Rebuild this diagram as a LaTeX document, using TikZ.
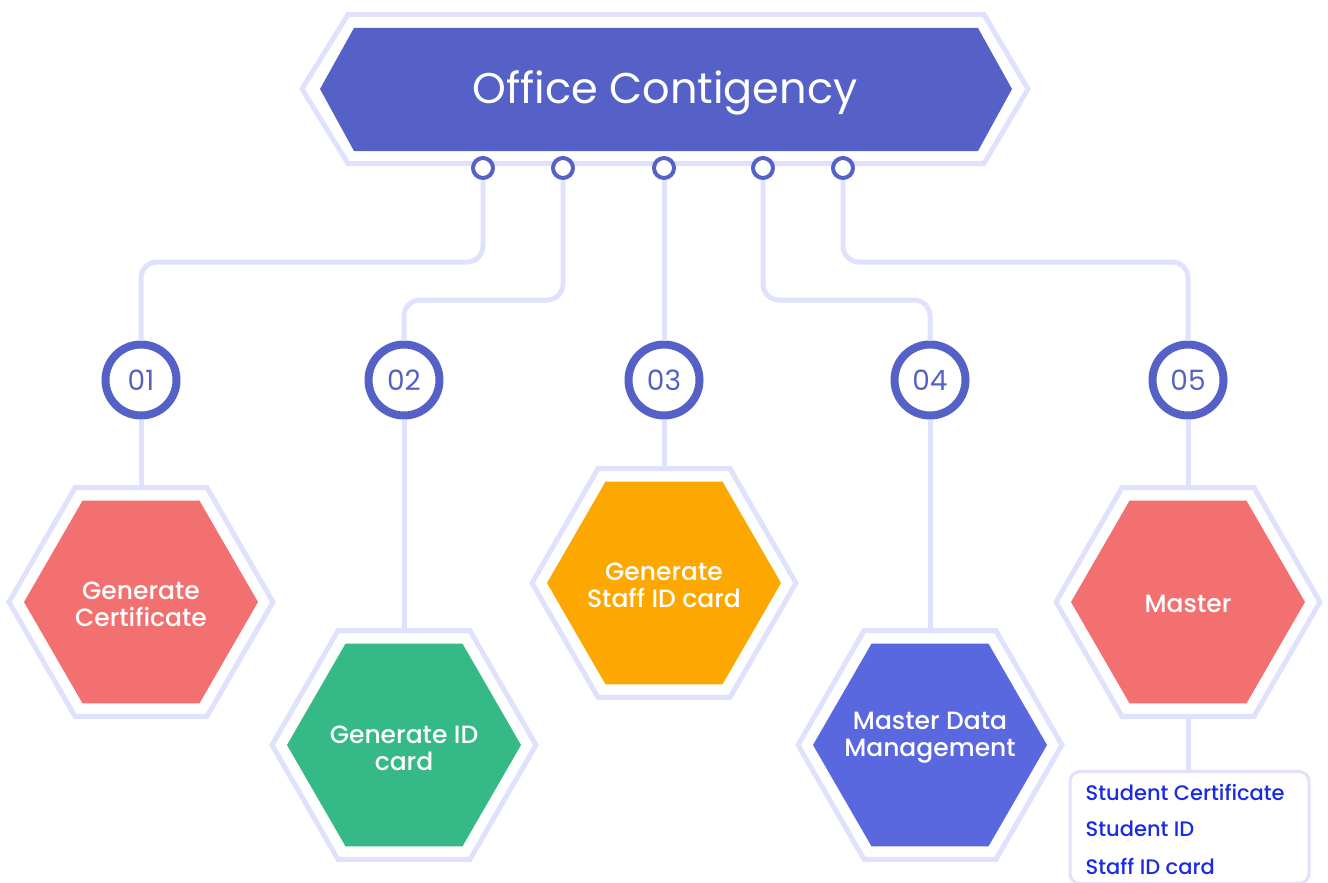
\documentclass[tikz,border=0pt]{standalone}
\usepackage{fontspec}
\setmainfont{Poppins}
\newfontfamily\popmedium{Poppins}[UprightFont=* Medium]
\usepackage{xcolor}
\usepackage{tikz}
\usetikzlibrary{shapes.geometric, positioning, calc}
\definecolor{bannerblue}{RGB}{85, 97, 198}
\definecolor{linelavender}{RGB}{224, 225, 253}
\definecolor{hexred}{RGB}{243, 112, 112}
\definecolor{hexgreen}{RGB}{53, 185, 135}
\definecolor{hexorange}{RGB}{252, 168, 0}
\definecolor{hexblue}{RGB}{90, 104, 223}
\definecolor{listblue}{RGB}{27, 43, 226}

\begin{document}
\begin{tikzpicture}[x=1pt, y=-1pt,
    conn/.style={line width=5pt, linelavender, rounded corners=16pt},
    frame/.style={regular polygon, regular polygon sides=6, minimum size=264pt, draw=linelavender, line width=5pt, fill=white, inner sep=0pt},
    hexbox/.style={regular polygon, regular polygon sides=6, minimum size=234pt, inner sep=0pt},
    hexlabel/.style={text=white, align=center, inner sep=0pt, font=\popmedium\fontsize{25}{27}\selectfont},
    pin/.style={circle, draw=bannerblue, line width=4pt, fill=white, minimum size=20pt, inner sep=0pt},
    num/.style={circle, draw=bannerblue, line width=8pt, fill=white, minimum size=71pt, inner sep=0pt, text=bannerblue, font=\fontsize{28}{30}\selectfont},
    listbox/.style={draw=linelavender, line width=3pt, fill=white, rounded corners=10pt, minimum width=239pt, minimum height=112pt, anchor=north west},
    listitem/.style={anchor=west, inner sep=0pt, text=listblue, font=\popmedium\fontsize{21}{22}\selectfont}]
    \useasboundingbox (0,0) rectangle (1328,883);

    % Banner
    \filldraw[linelavender, line width=5pt, fill=white] (302,89) -- (348,14.5) -- (984,14.5) -- (1028,89) -- (984,163.5) -- (348,163.5) -- cycle;
    \fill[bannerblue] (320,89) -- (354,28) -- (978,28) -- (1012,89) -- (978,151) -- (354,151) -- cycle;
    \node[text=white, font=\fontsize{43}{48}\selectfont] (title) at (665,93) {Office Contigency};

    % Pins and numbers
    \foreach \x [count=\i] in {483,563,664,763,843}
        \node[pin] (p\i) at (\x,168) {};
    \foreach \x/\t [count=\i] in {141/01, 404/02, 664/03, 930/04, 1188/05}
        \node[num] (n\i) at (\x,380) {\t};

    % Hexagons
    \foreach \x/\y/\dy/\c/\t [count=\i] in {141/602/2/hexred/{Generate\\Certificate}, 404/745/3/hexgreen/{Generate ID\\card}, 664/583/2/hexorange/{Generate\\Staff ID card}, 930/745/-7/hexblue/{Master Data\\Management}, 1188/602/2/hexred/{Master}} {
        \node[frame] (frame\i) at (\x,\y) {};
        \node[hexbox, fill=\c] (hex\i) at (frame\i) {};
        \node[hexlabel] (label\i) at ($(hex\i)+(0,\dy)$) {\t};
    }

    % Connectors
    \coordinate (row1) at (0,262);
    \coordinate (row2) at (0,300);
    \draw[conn] (p1.south) -- (p1.south |- row1) -| (n1.north);
    \draw[conn] (p2.south) -- (p2.south |- row2) -| (n2.north);
    \draw[conn] (p3.south) -- (n3.north);
    \draw[conn] (p4.south) -- (p4.south |- row2) -| (n4.north);
    \draw[conn] (p5.south) -- (p5.south |- row1) -| (n5.north);
    \foreach \i in {1,...,5}
        \draw[conn] (n\i.south) -- (frame\i.north);

    % Master list
    \node[listbox] (list) at (1068.5,770) {};
    \draw[conn] (frame5.south) -- (frame5.south |- list.north);
    \foreach \t [count=\i] in {Student Certificate, Student ID, Staff ID card}
        \node[listitem] (item\i) at ($(list.north west)+(17,{22+37*(\i-1)})$) {\t};
\end{tikzpicture}
\end{document}
